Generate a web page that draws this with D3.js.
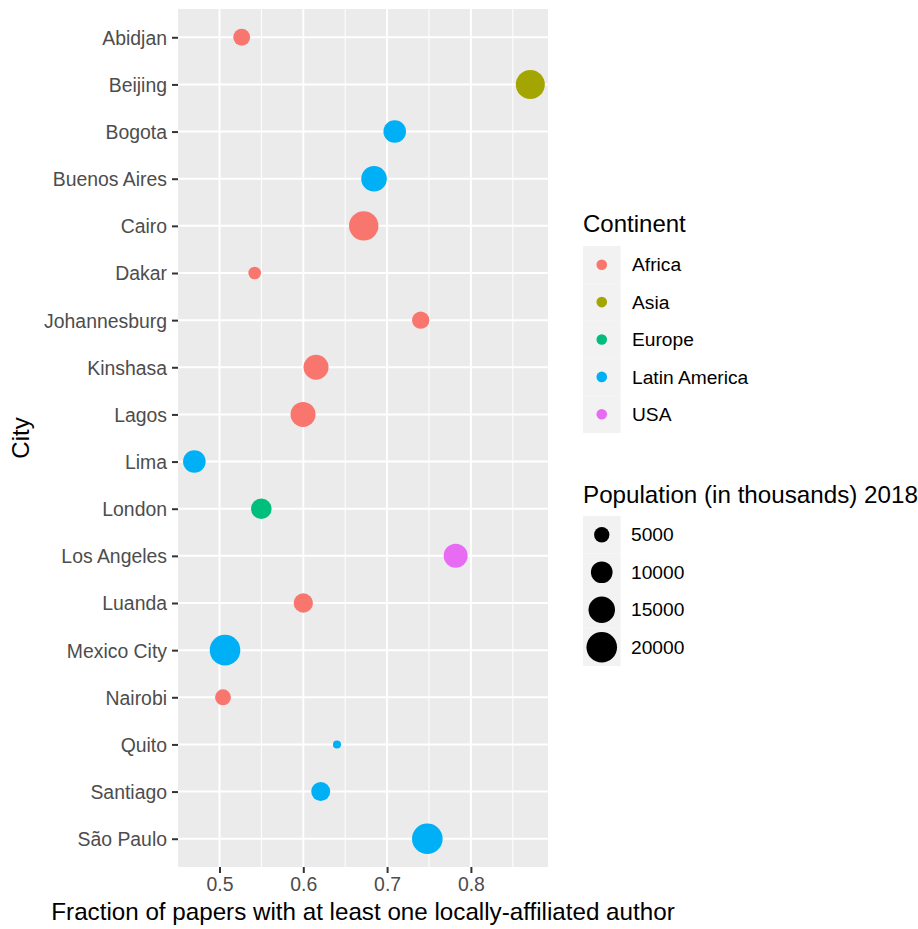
<!DOCTYPE html>
<html><head><meta charset="utf-8">
<script src="https://cdn.jsdelivr.net/npm/d3@7"></script>
<style>body{margin:0;background:#fff}svg{display:block}text{font-family:"Liberation Sans",Arial,sans-serif}</style>
</head><body><svg id="c" width="918" height="929"></svg>
<script>
const cities = ["Abidjan","Beijing","Bogota","Buenos Aires","Cairo","Dakar","Johannesburg","Kinshasa","Lagos","Lima","London","Los Angeles","Luanda","Mexico City","Nairobi","Quito","Santiago","São Paulo"];
const fraction = [0.5265,0.8709,0.7091,0.6844,0.6721,0.5420,0.7401,0.6152,0.5997,0.4700,0.5499,0.7818,0.6000,0.5066,0.5042,0.6402,0.6208,0.7480];
const population = [6100,18000,10900,14000,18500,3400,6400,13300,13300,10900,9100,12300,8000,20000,5400,1400,7700,20000];
const continent = ["Africa","Asia","Latin America","Latin America","Africa","Africa","Africa","Africa","Africa","Latin America","Europe","USA","Africa","Latin America","Africa","Latin America","Latin America","Latin America"];
const continents = ["Africa","Asia","Europe","Latin America","USA"];
const continentColors = ["#F8766D","#A3A500","#00BF7D","#00B0F6","#E76BF3"];
const xTicks = [0.5,0.6,0.7,0.8];
const xMinor = [0.45,0.55,0.65,0.75,0.85];
const sizeBreaks = [5000,10000,15000,20000];

const svg = d3.select("#c");
const P = {l:178, r:548, t:9, b:867};
const x = d3.scaleLinear().domain([0.4505,0.892]).range([P.l,P.r]);
const y = d3.scalePoint().domain(cities).range([P.t,P.b]).padding(0.6);
const size = d3.scaleSqrt().domain([0,20000]).range([0,15.3]);
const color = d3.scaleOrdinal().domain(continents).range(continentColors);

svg.append("rect").attr("x",P.l).attr("y",P.t).attr("width",P.r-P.l).attr("height",P.b-P.t).attr("fill","#EBEBEB");
const g = svg.append("g");
g.selectAll(".minor").data(xMinor).join("line").attr("x1",d=>x(d)).attr("x2",d=>x(d)).attr("y1",P.t).attr("y2",P.b).attr("stroke","#fff").attr("stroke-width",1);
g.selectAll(".majx").data(xTicks).join("line").attr("x1",d=>x(d)).attr("x2",d=>x(d)).attr("y1",P.t).attr("y2",P.b).attr("stroke","#fff").attr("stroke-width",2);
g.selectAll(".majy").data(cities).join("line").attr("x1",P.l).attr("x2",P.r).attr("y1",d=>y(d)).attr("y2",d=>y(d)).attr("stroke","#fff").attr("stroke-width",2);

// axes
const xAxis = d3.axisBottom(x).tickValues(xTicks).tickSize(6).tickPadding(4).tickFormat(d3.format(".1f"));
const gx = svg.append("g").attr("transform",`translate(0,${P.b})`).call(xAxis);
gx.select(".domain").remove();
gx.selectAll(".tick line").attr("stroke","#333").attr("stroke-width",2);
gx.selectAll(".tick text").attr("fill","#4D4D4D").attr("font-size",19.4).attr("font-family","Liberation Sans, Arial, sans-serif");

const yAxis = d3.axisLeft(y).tickSize(6).tickPadding(5);
const gy = svg.append("g").attr("transform",`translate(${P.l},0)`).call(yAxis);
gy.select(".domain").remove();
gy.selectAll(".tick line").attr("stroke","#333").attr("stroke-width",2);
gy.selectAll(".tick text").attr("fill","#4D4D4D").attr("font-size",19.4).attr("dy","0.36em").attr("font-family","Liberation Sans, Arial, sans-serif");

// points
const data = cities.map((c,i)=>({c, f:fraction[i], p:population[i], k:continent[i]}));
svg.append("g").selectAll("circle").data(data).join("circle")
  .attr("cx",d=>x(d.f)).attr("cy",d=>y(d.c)).attr("r",d=>size(d.p)).attr("fill",d=>color(d.k));

// titles
svg.append("text").attr("x",(P.l+P.r)/2).attr("y",920).attr("text-anchor","middle").attr("font-size",24.2).attr("fill","#000").text("Fraction of papers with at least one locally-affiliated author");
svg.append("text").attr("transform","translate(29,438) rotate(-90)").attr("text-anchor","middle").attr("font-size",24).attr("fill","#000").text("City");

// legend continent
const L = svg.append("g");
L.append("text").attr("x",583).attr("y",232).attr("font-size",24).text("Continent");
const keyW = 37.5, keyH = 37.4;
continents.forEach((c,i)=>{
  const yy = 246 + i*keyH;
  L.append("rect").attr("x",583).attr("y",yy).attr("width",keyW).attr("height",keyH).attr("fill","#F2F2F2");
  L.append("circle").attr("cx",583+keyW/2).attr("cy",yy+keyH/2).attr("r",5.3).attr("fill",color(c));
  L.append("text").attr("x",632).attr("y",yy+keyH/2).attr("dy","0.35em").attr("font-size",19.2).text(c);
});
// legend size
L.append("text").attr("x",583).attr("y",503).attr("font-size",24.2).text("Population (in thousands) 2018");
sizeBreaks.forEach((b,i)=>{
  const yy = 516 + i*37.5;
  L.append("rect").attr("x",583).attr("y",yy).attr("width",keyW).attr("height",37.5).attr("fill","#F2F2F2");
  L.append("circle").attr("cx",583+keyW/2).attr("cy",yy+37.5/2).attr("r",size(b)).attr("fill","#000");
  L.append("text").attr("x",631).attr("y",yy+37.5/2).attr("dy","0.35em").attr("font-size",19.2).text(b);
});
</script></body></html>
